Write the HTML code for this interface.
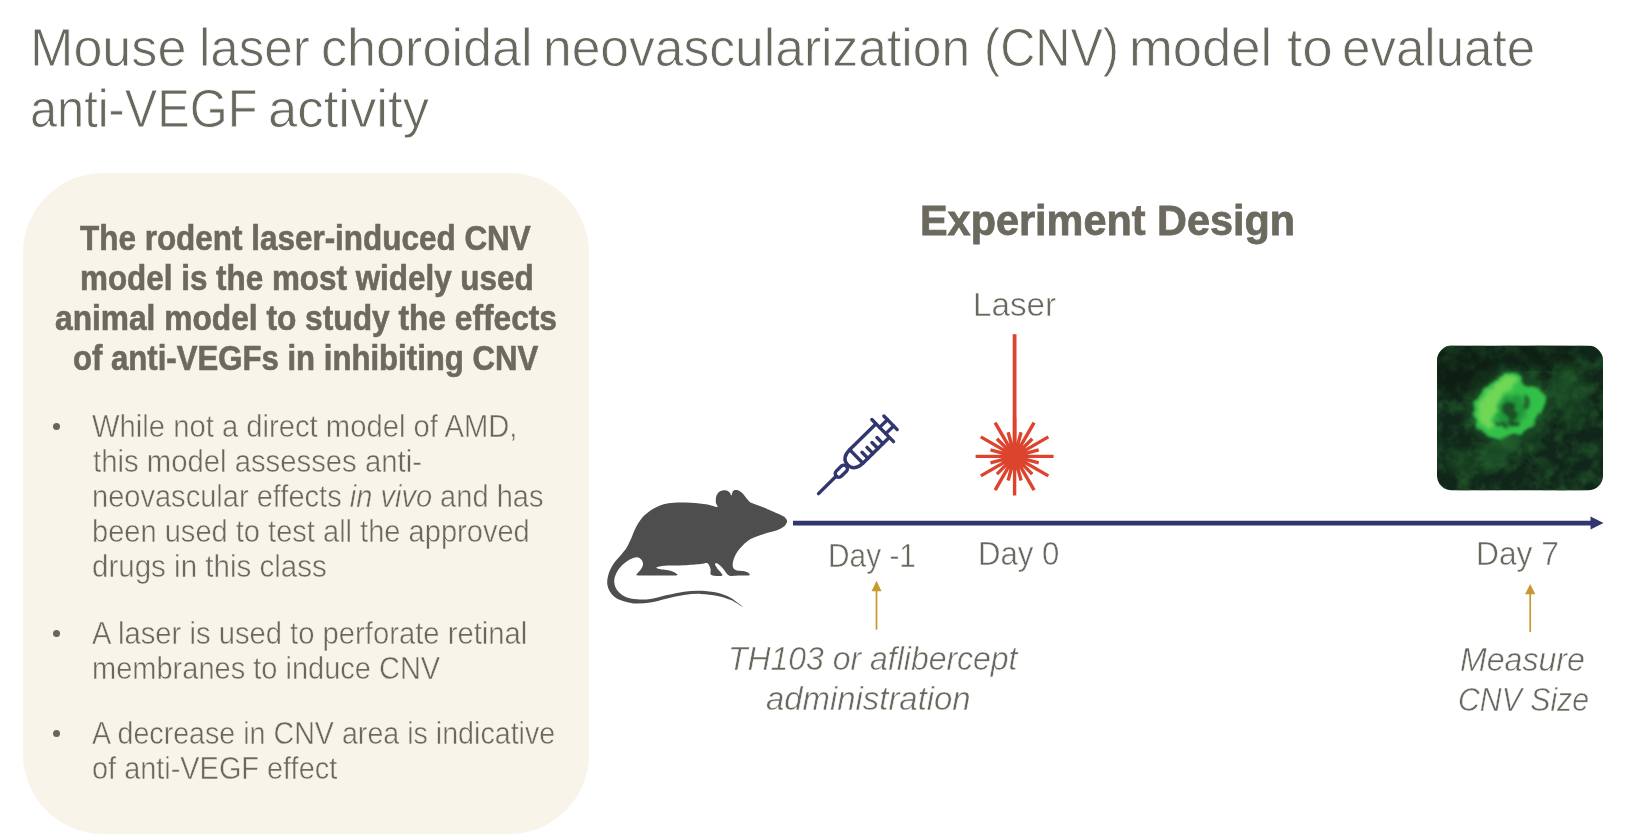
<!DOCTYPE html>
<html lang="en"><head><meta charset="utf-8"><title>Mouse laser CNV model</title>
<style>
html,body{margin:0;padding:0;background:#fff}
body{width:1644px;height:834px;position:relative;overflow:hidden;font-family:'Liberation Sans',sans-serif}
.t{position:absolute;white-space:nowrap;line-height:1.2;transform-origin:0 0;font-family:'Liberation Sans',sans-serif;margin:0}
.box{position:absolute;left:23.3px;top:173.2px;width:566.2px;height:661px;background:#f9f4ea;border-radius:80px}
.bul{position:absolute;left:52.7px;width:7px;height:7px;border-radius:50%;background:#67665c}
.gfx{position:absolute;left:0;top:0}
i{font-style:italic}
h1{margin:0;font-size:inherit;font-weight:400}
</style></head><body>
<div class="box"></div>
<svg class="gfx" width="1644" height="834" viewBox="0 0 1644 834">
<defs>
<clipPath id="imgclip"><rect x="1437" y="345.5" width="166" height="145" rx="15" ry="15"/></clipPath>
<filter id="noise" x="0" y="0" width="100%" height="100%" color-interpolation-filters="sRGB"><feTurbulence type="fractalNoise" baseFrequency="0.07" numOctaves="3" seed="11"/><feColorMatrix type="matrix" values="0 0 0 0 0.14  0 0 0 0 0.36  0 0 0 0 0.17  1.7 0 0 0 -0.68"/></filter>
<filter id="rag" x="-20%" y="-20%" width="140%" height="140%" color-interpolation-filters="sRGB"><feTurbulence type="fractalNoise" baseFrequency="0.12" numOctaves="2" seed="3" result="t"/><feDisplacementMap in="SourceGraphic" in2="t" scale="7" xChannelSelector="R" yChannelSelector="G"/><feGaussianBlur stdDeviation="1.5"/></filter>
<filter id="b1"><feGaussianBlur stdDeviation="1.6"/></filter>
<filter id="b3"><feGaussianBlur stdDeviation="5"/></filter>
</defs>
<path d="M787.1,521.1C787.1,519.7 785.5,518.2 784.7,517.3C783.9,516.4 784.2,516.7 782.2,515.8C780.2,514.8 776.5,513.1 773.0,511.6C769.5,510.0 764.8,508.0 761.2,506.5C757.6,505.0 753.4,503.8 751.1,502.7C748.9,501.6 749.2,501.4 747.8,499.8C746.4,498.3 744.3,495.0 742.7,493.4C741.2,491.9 739.9,491.0 738.5,490.4C737.2,489.9 735.9,489.8 734.8,490.1C733.8,490.4 733.1,491.2 732.5,492.1C731.9,493.0 732.0,495.6 731.5,495.6C731.0,495.7 730.5,493.3 729.6,492.4C728.8,491.6 727.5,490.9 726.3,490.6C725.1,490.2 723.8,490.2 722.6,490.4C721.4,490.7 720.0,491.0 718.9,492.1C717.8,493.2 716.7,495.0 716.2,496.8C715.7,498.6 715.7,501.0 715.9,502.7C716.0,504.3 718.6,506.6 717.2,506.9C715.8,507.2 711.9,505.2 707.5,504.5C703.1,503.8 696.3,503.1 690.7,502.8C685.1,502.5 678.4,502.4 673.9,502.7C669.4,502.9 667.2,503.4 663.8,504.3C660.5,505.3 657.1,506.6 653.7,508.5C650.4,510.5 646.6,513.0 643.7,516.1C640.7,519.2 638.2,523.2 636.1,527.0C634.0,530.8 632.6,535.4 631.1,538.8C629.5,542.1 628.4,544.7 626.9,547.2C625.3,549.7 624.1,551.1 621.8,553.9C619.6,556.7 615.7,560.3 613.4,564.0C611.1,567.6 609.0,572.1 608.1,575.7C607.1,579.4 606.9,582.7 607.6,585.8C608.2,588.9 609.7,591.8 611.8,594.2C613.9,596.6 616.5,598.5 620.2,600.1C623.8,601.6 628.5,603.0 633.6,603.4C638.6,603.8 644.8,603.4 650.4,602.6C656.0,601.7 661.6,599.6 667.2,598.4C672.8,597.1 678.4,595.8 684.0,595.0C689.6,594.3 695.2,593.7 700.8,593.9C706.4,594.0 712.5,594.8 717.5,595.9C722.6,596.9 726.7,598.2 731.0,600.1C735.2,602.0 743.1,607.6 743.1,607.3C743.1,607.0 735.2,600.5 731.0,598.1C726.7,595.6 722.6,594.0 717.5,592.8C712.5,591.6 706.4,591.0 700.8,590.8C695.2,590.6 689.6,591.0 684.0,591.7C678.4,592.4 672.8,593.8 667.2,595.0C661.6,596.2 655.4,598.2 650.4,598.9C645.3,599.6 641.1,599.6 636.9,599.2C632.7,598.9 628.4,598.1 625.2,596.7C622.0,595.3 619.5,593.2 617.6,590.8C615.8,588.5 614.6,585.2 614.3,582.4C614.0,579.6 614.7,576.8 616.0,574.0C617.2,571.2 619.5,568.1 621.8,565.6C624.2,563.2 627.7,560.7 630.2,559.3C632.7,557.9 635.1,557.2 636.9,557.2C638.8,557.3 640.5,558.5 641.5,559.8C642.5,561.0 643.1,563.1 643.0,564.8C642.8,566.5 641.6,568.3 640.6,569.8C639.6,571.4 637.3,573.1 636.9,574.0C636.6,575.0 634.9,575.1 638.3,575.4C641.6,575.6 650.8,575.5 657.1,575.5C663.4,575.5 672.7,575.7 675.9,575.4C679.1,575.1 677.3,574.5 676.4,573.7C675.5,572.9 673.3,571.5 670.5,570.7C667.7,569.9 661.9,569.6 659.6,569.0C657.3,568.4 655.5,567.9 656.8,567.3C658.0,566.8 662.6,566.0 667.2,565.6C671.7,565.3 678.4,565.6 684.0,565.3C689.6,565.0 696.8,564.3 700.8,564.0C704.7,563.6 705.8,562.5 707.5,563.3C709.1,564.1 709.8,567.0 710.5,569.0C711.2,571.0 709.5,574.0 711.5,575.0C713.5,576.1 721.2,576.4 722.3,575.4C723.3,574.3 718.8,570.6 717.5,568.7C716.3,566.8 714.9,564.8 714.9,564.0C714.9,563.1 716.1,562.8 717.5,563.6C719.0,564.5 721.5,567.0 723.4,569.0C725.3,571.0 726.3,574.3 729.0,575.4C731.6,576.5 736.1,575.5 739.4,575.5C742.7,575.5 747.2,575.7 748.8,575.4C750.4,575.0 749.7,574.0 749.1,573.4C748.5,572.7 747.6,571.9 745.3,571.4C742.9,570.8 737.3,571.1 735.2,569.8C733.1,568.6 732.5,566.6 732.7,564.0C732.8,561.3 734.3,557.0 736.0,553.9C737.7,550.8 740.2,548.0 742.7,545.5C745.3,543.0 747.5,540.7 751.1,538.8C754.8,536.8 760.4,535.1 764.6,533.7C768.8,532.3 773.0,531.6 776.3,530.4C779.6,529.1 782.6,527.7 784.4,526.2C786.2,524.6 787.0,522.6 787.1,521.1Z" fill="#4e4e4e"/>
<path d="M793,523.1H1592" stroke="#31366f" stroke-width="4.6" fill="none"/>
<path d="M1590.5,516.4L1603.5,523L1590.5,529.6Z" fill="#31366f"/>
<g transform="translate(818.5,493.6) rotate(-44.5)" fill="none" stroke="#31366f" stroke-width="3.4" stroke-linecap="round" stroke-linejoin="round">
<path d="M0,0H25"/>
<rect x="25" y="-3.6" width="14" height="7.2" rx="3.4"/>
<path d="M89,-9.5H54Q41,-9.5 41,0Q41,9.5 54,9.5H89"/>
<path d="M53,-9.5V9.5"/>
<path d="M60,9.5V1M67,9.5V1M74,9.5V1M81,9.5V1"/>
<path d="M90,-15.5V15.5"/>
<path d="M90,-4.4H101M90,4.4H101"/>
<path d="M101,-9.5V9.5"/>
</g>
<path d="M1014.6,334.2V456" stroke="#dc442e" stroke-width="3.8" fill="none"/>
<path d="M1014.6,456.4L1053.60,456.40M1014.6,456.4L1038.75,449.93M1014.6,456.4L1048.37,436.90M1014.6,456.4L1032.28,438.72M1014.6,456.4L1034.10,422.63M1014.6,456.4L1021.07,432.25M1014.6,456.4L1014.60,417.40M1014.6,456.4L1008.13,432.25M1014.6,456.4L995.10,422.63M1014.6,456.4L996.92,438.72M1014.6,456.4L980.83,436.90M1014.6,456.4L990.45,449.93M1014.6,456.4L975.60,456.40M1014.6,456.4L990.45,462.87M1014.6,456.4L980.83,475.90M1014.6,456.4L996.92,474.08M1014.6,456.4L995.10,490.17M1014.6,456.4L1008.13,480.55M1014.6,456.4L1014.60,495.40M1014.6,456.4L1021.07,480.55M1014.6,456.4L1034.10,490.17M1014.6,456.4L1032.28,474.08M1014.6,456.4L1048.37,475.90M1014.6,456.4L1038.75,462.87" stroke="#dc442e" stroke-width="3.4" fill="none"/>
<circle cx="1014.6" cy="456.4" r="11" fill="#dc442e"/>
<g stroke="#c8992f" stroke-width="1.7" fill="#c8992f">
<path d="M876.5,629.7V589" fill="none"/><path d="M871.5,591.2L876.5,580.8L881.5,591.2Z" stroke="none"/>
<path d="M1530.2,631.9V592" fill="none"/><path d="M1525.1,594.2L1530.2,584L1535.3,594.2Z" stroke="none"/>
</g>
<g clip-path="url(#imgclip)">
<rect x="1437" y="345.5" width="166" height="145" fill="#10261a"/>
<rect x="1437" y="345.5" width="166" height="145" filter="url(#noise)"/>
<ellipse cx="1508" cy="408" rx="44" ry="40" fill="#2f8a3a" opacity="0.32" filter="url(#b3)"/>
<ellipse cx="1572" cy="395" rx="16" ry="34" fill="#2a7a36" opacity="0.28" filter="url(#b3)"/>
<ellipse cx="1470" cy="462" rx="26" ry="14" fill="#2a7a36" opacity="0.25" filter="url(#b3)"/>
<ellipse cx="1462" cy="372" rx="34" ry="24" fill="#08160c" opacity="0.45" filter="url(#b3)"/>
<ellipse cx="1540" cy="356" rx="40" ry="12" fill="#08160c" opacity="0.4" filter="url(#b3)"/>
<ellipse cx="1500" cy="452" rx="22" ry="12" fill="#2f8a3a" opacity="0.35" filter="url(#b3)" transform="rotate(-35 1500 452)"/>
<ellipse cx="1560" cy="385" rx="10" ry="24" fill="#2f8a3a" opacity="0.25" filter="url(#b3)" transform="rotate(15 1560 385)"/>
<g filter="url(#rag)">
<path d="M1512.3,372.7C1514.8,372.9 1518.3,373.8 1519.8,375.6C1521.4,377.3 1520.1,381.2 1521.7,383.0C1523.3,384.9 1526.4,385.8 1529.2,386.8C1532.0,387.7 1536.0,387.1 1538.5,388.7C1541.0,390.2 1543.1,393.3 1544.1,396.1C1545.2,398.9 1545.7,402.7 1545.1,405.5C1544.5,408.3 1542.1,410.5 1540.4,413.0C1538.7,415.5 1536.3,418.0 1534.8,420.5C1533.2,423.0 1533.5,425.8 1531.0,427.9C1528.6,430.1 1524.2,431.8 1519.8,433.6C1515.5,435.3 1509.5,437.6 1504.9,438.2C1500.2,438.9 1495.8,438.7 1491.8,437.3C1487.7,435.9 1483.5,432.9 1480.5,429.8C1477.6,426.7 1475.1,422.3 1474.0,418.6C1472.9,414.9 1473.2,411.1 1474.0,407.4C1474.8,403.6 1476.6,399.6 1478.7,396.1C1480.7,392.7 1483.3,389.4 1486.1,386.8C1488.9,384.1 1492.4,382.3 1495.5,380.2C1498.6,378.2 1502.0,375.9 1504.9,374.6C1507.7,373.4 1509.8,372.6 1512.3,372.7Z" fill="#33c049"/>
<path d="M1512.3,375.6C1514.7,375.9 1517.9,377.4 1517.9,379.3C1517.9,381.2 1514.8,384.0 1512.3,386.8C1509.8,389.6 1505.5,393.0 1503.0,396.1C1500.5,399.3 1498.9,402.1 1497.4,405.5C1495.8,408.9 1494.6,413.0 1493.6,416.7C1492.7,420.5 1493.3,426.4 1491.8,427.9C1490.2,429.5 1486.4,427.9 1484.3,426.1C1482.1,424.2 1479.4,420.2 1478.7,416.7C1477.9,413.3 1478.5,409.2 1479.6,405.5C1480.7,401.8 1482.9,397.7 1485.2,394.3C1487.5,390.8 1490.5,387.7 1493.6,384.9C1496.7,382.1 1500.8,379.0 1503.9,377.4C1507.0,375.9 1510.0,375.2 1512.3,375.6Z" fill="#6fd657" filter="url(#b1)"/>
<path d="M1504.9,398.0C1507.7,396.8 1513.0,395.5 1516.1,396.1C1519.2,396.8 1521.7,399.3 1523.6,401.8C1525.4,404.2 1527.6,408.0 1527.3,411.1C1527.0,414.2 1524.2,418.0 1521.7,420.5C1519.2,423.0 1515.8,425.5 1512.3,426.1C1508.9,426.7 1503.6,426.1 1501.1,424.2C1498.6,422.3 1497.7,418.3 1497.4,414.9C1497.1,411.4 1498.0,406.4 1499.2,403.6C1500.5,400.8 1502.0,399.3 1504.9,398.0Z" fill="#23963a" filter="url(#b1)"/>
<path d="M1503.9,405.5C1505.3,403.5 1508.6,401.0 1510.5,400.8C1512.3,400.7 1514.5,402.8 1515.1,404.6C1515.8,406.3 1513.7,409.4 1514.2,411.1C1514.7,412.8 1518.3,413.6 1517.9,414.9C1517.6,416.1 1514.2,418.4 1512.3,418.6C1510.5,418.7 1508.4,416.7 1506.7,415.8C1505.0,414.9 1502.5,414.7 1502.0,413.0C1501.6,411.3 1502.5,407.5 1503.9,405.5Z" fill="#195226"/>
<path d="M1495.5,421.4C1496.3,420.7 1499.9,421.7 1502.0,422.3C1504.2,423.0 1508.1,424.2 1508.6,425.1C1509.1,426.1 1506.7,427.7 1504.9,427.9C1503.0,428.2 1498.9,427.5 1497.4,426.5C1495.8,425.4 1494.7,422.1 1495.5,421.4Z" fill="#1d622b"/>
<path d="M1523.6,396.1C1524.0,395.4 1526.4,395.8 1527.3,397.1C1528.2,398.3 1529.2,401.4 1529.2,403.6C1529.2,405.8 1528.2,409.5 1527.3,410.2C1526.4,410.8 1524.0,408.8 1523.6,407.4C1523.1,406.0 1524.5,403.6 1524.5,401.8C1524.5,399.9 1523.1,396.9 1523.6,396.1Z" fill="#1f6a2e"/>
<path d="M1508.6,420.5C1509.2,419.5 1512.2,419.2 1514.2,419.5C1516.2,419.8 1520.1,421.2 1520.8,422.3C1521.4,423.4 1519.7,425.6 1517.9,426.1C1516.2,426.5 1512.0,426.1 1510.5,425.1C1508.9,424.2 1508.0,421.4 1508.6,420.5Z" fill="#195226"/>
</g>
</g>
</svg>
<div class="bul" style="top:423.1px"></div>
<div class="bul" style="top:630.4px"></div>
<div class="bul" style="top:730.4px"></div>
<h1><span class="t" style="left:30.30px;top:15.31px;font-size:54.27px;transform:scaleX(0.9600);color:#69685e;-webkit-text-stroke:0.81px #fff;">Mouse</span> <span class="t" style="left:198.94px;top:15.31px;font-size:54.27px;transform:scaleX(0.9411);color:#69685e;-webkit-text-stroke:0.81px #fff;">laser</span> <span class="t" style="left:320.82px;top:15.31px;font-size:54.27px;transform:scaleX(0.9610);color:#69685e;-webkit-text-stroke:0.81px #fff;">choroidal</span> <span class="t" style="left:543.30px;top:15.31px;font-size:54.27px;transform:scaleX(0.9503);color:#69685e;-webkit-text-stroke:0.81px #fff;">neovascularization</span> <span class="t" style="left:983.52px;top:15.31px;font-size:54.27px;transform:scaleX(0.8958);color:#69685e;-webkit-text-stroke:0.81px #fff;">(CNV)</span> <span class="t" style="left:1128.82px;top:15.31px;font-size:54.27px;transform:scaleX(0.9693);color:#69685e;-webkit-text-stroke:0.81px #fff;">model</span> <span class="t" style="left:1286.79px;top:15.31px;font-size:54.27px;transform:scaleX(1.0098);color:#69685e;-webkit-text-stroke:0.81px #fff;">to</span> <span class="t" style="left:1342.18px;top:15.31px;font-size:54.27px;transform:scaleX(0.9412);color:#69685e;-webkit-text-stroke:0.81px #fff;">evaluate</span> <span class="t" style="left:30.11px;top:75.51px;font-size:54.27px;transform:scaleX(0.8980);color:#69685e;-webkit-text-stroke:0.81px #fff;">anti-VEGF</span> <span class="t" style="left:268.39px;top:75.51px;font-size:54.27px;transform:scaleX(0.9710);color:#69685e;-webkit-text-stroke:0.81px #fff;">activity</span></h1>
<div class="t" style="left:80.00px;top:218.09px;font-size:34.5px;transform:scaleX(0.9115);color:#6c695f;font-weight:700;-webkit-text-stroke:0.62px #6c695f;">The rodent laser-induced CNV</div>
<div class="t" style="left:79.58px;top:258.49px;font-size:34.5px;transform:scaleX(0.9101);color:#6c695f;font-weight:700;-webkit-text-stroke:0.62px #6c695f;">model is the most widely used</div>
<div class="t" style="left:55.28px;top:297.59px;font-size:34.5px;transform:scaleX(0.9188);color:#6c695f;font-weight:700;-webkit-text-stroke:0.62px #6c695f;">animal model to study the effects</div>
<div class="t" style="left:73.10px;top:338.29px;font-size:34.5px;transform:scaleX(0.9023);color:#6c695f;font-weight:700;-webkit-text-stroke:0.62px #6c695f;">of anti-VEGFs in inhibiting CNV</div>
<div class="t" style="left:92.34px;top:408.33px;font-size:30.52px;transform:scaleX(0.9575);color:#69685e;-webkit-text-stroke:0.46px #f9f4ea;">While not a direct model of AMD,</div>
<div class="t" style="left:93.04px;top:443.03px;font-size:30.52px;transform:scaleX(0.9600);color:#69685e;-webkit-text-stroke:0.46px #f9f4ea;">this model assesses anti-</div>
<div class="t" style="left:92.10px;top:478.43px;font-size:30.52px;transform:scaleX(0.9516);color:#69685e;-webkit-text-stroke:0.46px #f9f4ea;">neovascular effects <i>in vivo</i> and has</div>
<div class="t" style="left:92.10px;top:513.43px;font-size:30.52px;transform:scaleX(0.9521);color:#69685e;-webkit-text-stroke:0.46px #f9f4ea;">been used to test all the approved</div>
<div class="t" style="left:91.76px;top:547.93px;font-size:30.52px;transform:scaleX(0.9678);color:#69685e;-webkit-text-stroke:0.46px #f9f4ea;">drugs in this class</div>
<div class="t" style="left:92.24px;top:615.13px;font-size:30.52px;transform:scaleX(0.9574);color:#69685e;-webkit-text-stroke:0.46px #f9f4ea;">A laser is used to perforate retinal</div>
<div class="t" style="left:92.10px;top:650.13px;font-size:30.52px;transform:scaleX(0.9505);color:#69685e;-webkit-text-stroke:0.46px #f9f4ea;">membranes to induce CNV</div>
<div class="t" style="left:92.26px;top:714.93px;font-size:30.52px;transform:scaleX(0.9385);color:#69685e;-webkit-text-stroke:0.46px #f9f4ea;">A decrease in CNV area is indicative</div>
<div class="t" style="left:91.71px;top:749.63px;font-size:30.52px;transform:scaleX(0.9469);color:#69685e;-webkit-text-stroke:0.46px #f9f4ea;">of anti-VEGF effect</div>
<div class="t" style="left:919.65px;top:194.82px;font-size:42.5px;transform:scaleX(0.9743);color:#6c695f;font-weight:700;-webkit-text-stroke:0.76px #6c695f;">Experiment Design</div>
<div class="t" style="left:973.32px;top:284.55px;font-size:33.38px;transform:scaleX(0.9937);color:#69685e;-webkit-text-stroke:0.50px #fff;">Laser</div>
<div class="t" style="left:827.92px;top:536.45px;font-size:33.38px;transform:scaleX(0.8946);color:#69685e;-webkit-text-stroke:0.50px #fff;">Day -1</div>
<div class="t" style="left:978.00px;top:533.75px;font-size:33.38px;transform:scaleX(0.9341);color:#69685e;-webkit-text-stroke:0.50px #fff;">Day 0</div>
<div class="t" style="left:1475.65px;top:534.25px;font-size:33.38px;transform:scaleX(0.9512);color:#69685e;-webkit-text-stroke:0.50px #fff;">Day 7</div>
<div class="t" style="left:727.57px;top:638.85px;font-size:33.38px;transform:scaleX(0.9572);color:#69685e;-webkit-text-stroke:0.50px #fff;font-style:italic;">TH103 or aflibercept</div>
<div class="t" style="left:766.32px;top:679.15px;font-size:33.38px;transform:scaleX(0.9849);color:#69685e;-webkit-text-stroke:0.50px #fff;font-style:italic;">administration</div>
<div class="t" style="left:1460.38px;top:640.25px;font-size:33.38px;transform:scaleX(0.9611);color:#69685e;-webkit-text-stroke:0.50px #fff;font-style:italic;">Measure</div>
<div class="t" style="left:1458.39px;top:680.35px;font-size:33.38px;transform:scaleX(0.9057);color:#69685e;-webkit-text-stroke:0.50px #fff;font-style:italic;">CNV Size</div>
</body></html>
